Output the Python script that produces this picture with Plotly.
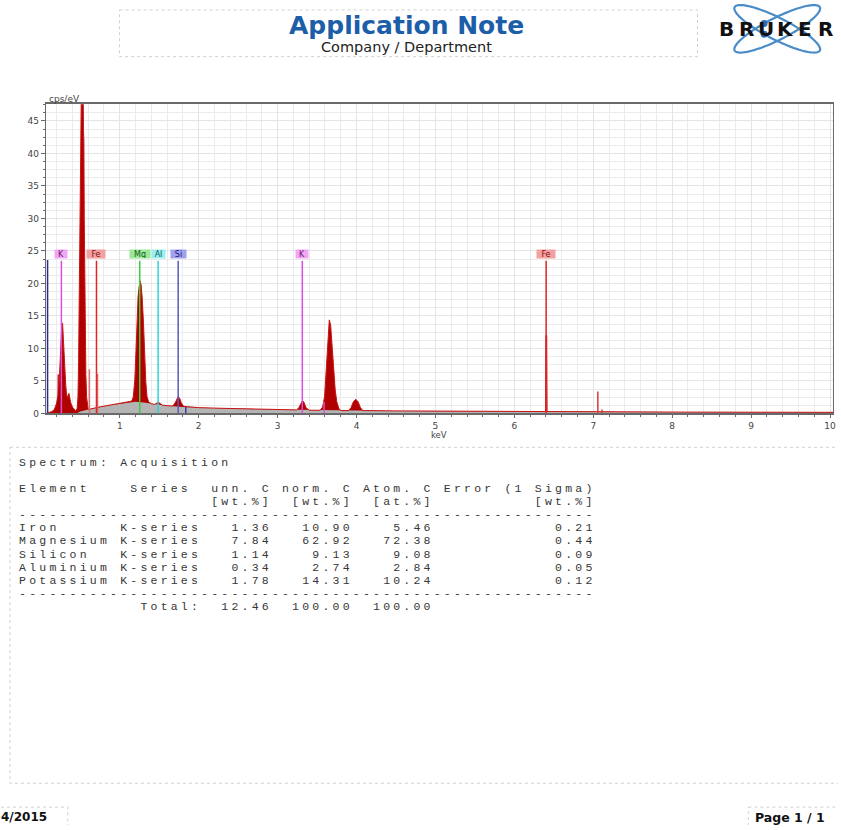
import numpy as np
import plotly.graph_objects as go

PAGE_W, PAGE_H = 841, 830

# ---------------- EDS spectrum: energy [keV] / intensity [cps/eV] ----------------
spec_kev = [0.063, 0.10, 0.14, 0.17, 0.20, 0.215, 0.22, 0.225, 0.235, 0.245, 0.255, 0.265,
            0.275, 0.285, 0.295, 0.305, 0.315, 0.325, 0.335, 0.345, 0.355, 0.365, 0.38,
            0.40, 0.42, 0.44, 0.46, 0.47, 0.478, 0.484, 0.488, 0.495, 0.50, 0.507, 0.513,
            0.525, 0.535, 0.54, 0.545, 0.55, 0.556, 0.562, 0.57, 0.58, 0.59, 0.60, 0.70,
            0.80, 0.90, 1.00, 1.10, 1.15, 1.17, 1.19, 1.205, 1.22, 1.232, 1.245, 1.258,
            1.27, 1.284, 1.30, 1.315, 1.33, 1.345, 1.365, 1.40, 1.44, 1.47, 1.49, 1.51,
            1.54, 1.60, 1.67, 1.70, 1.72, 1.74, 1.76, 1.78, 1.81, 2.00, 2.30, 2.60, 3.00,
            3.24, 3.27, 3.295, 3.315, 3.335, 3.36, 3.40, 3.54, 3.57, 3.595, 3.615, 3.635,
            3.655, 3.672, 3.69, 3.71, 3.73, 3.75, 3.775, 3.80, 3.90, 3.93, 3.96, 3.99,
            4.02, 4.05, 4.08, 4.50, 5.00, 6.00, 6.395, 6.40, 6.41, 6.415, 7.00, 8.00,
            9.00, 10.038]
spec_cps = [0.0, 0.1, 0.3, 0.6, 1.6, 2.8, 6.0, 3.5, 5.5, 9.0, 11.8, 13.4,
            13.9, 11.0, 8.5, 6.2, 4.4, 3.0, 2.4, 2.8, 3.1, 2.5, 1.6,
            1.0, 0.6, 0.4, 0.8, 2.5, 8.0, 16.0, 23.0, 24.0, 30.0, 40.0, 50.0,
            56.0, 52.0, 43.5, 42.0, 30.0, 20.0, 12.0, 6.0, 2.5, 1.0, 0.6, 0.9,
            1.1, 1.3, 1.5, 1.7, 1.9, 2.5, 5.0, 9.5, 15.0, 18.0, 19.5, 20.4,
            19.8, 17.8, 14.0, 9.0, 4.8, 2.6, 1.8, 1.5, 1.4, 1.6, 1.75, 1.55,
            1.3, 1.2, 1.15, 1.6, 2.2, 2.6, 2.3, 1.6, 1.1, 0.9, 0.8, 0.7, 0.6,
            0.55, 0.9, 1.6, 2.0, 1.7, 0.9, 0.5, 0.5, 1.0, 2.6, 6.5, 11.0,
            14.4, 13.6, 10.5, 6.8, 3.6, 1.8, 0.8, 0.45, 0.45, 0.9, 1.8, 2.2,
            1.8, 0.9, 0.45, 0.4, 0.35, 0.3, 0.3, 12.0, 12.0, 0.3, 0.25, 0.22,
            0.2, 0.18]

# fitted continuum (bremsstrahlung background)
bg_kev = [0.45, 0.50, 0.60, 0.70, 0.80, 0.90, 1.00, 1.10, 1.20, 1.30, 1.40, 1.50,
          1.60, 1.80, 2.00, 2.30, 2.60, 3.00, 3.50, 4.00, 4.50, 5.00, 6.00, 7.00,
          8.00, 9.00, 10.038]
bg_cps = [0.0, 0.3, 0.6, 0.9, 1.1, 1.3, 1.5, 1.7, 1.8, 1.7, 1.5, 1.3,
          1.2, 1.0, 0.9, 0.8, 0.7, 0.6, 0.5, 0.45, 0.4, 0.35, 0.3, 0.25,
          0.22, 0.2, 0.18]

# labelled element lines
line_names = ["K", "Fe", "Mg", "Al", "Si", "K", "Fe"]
line_kev = [0.26, 0.705, 1.253, 1.486, 1.740, 3.313, 6.403]
LINE_TOP = 23.5
LABEL_Y = 24.5

# secondary (unlabelled) lines
aux_kev = [0.085, 0.615, 0.718, 1.836, 3.589, 7.058, 7.11]
aux_cps = [23.6, 6.8, 6.1, 1.0, 1.8, 3.4, 0.6]
aux_col = ["#2e2e8a", "#e07070", "#e07070", "#3a3aa8", "#d94fd9", "#d83a3a", "#d83a3a"]

# element colour scheme: line, label background, label text, label width (px)
elem_style = {
    "K":  ("#d94fd9", "#f3a6f3", "#6e1a6e", 12),
    "Fe": ("#e02828", "#f2a0a0", "#861010", 18),
    "Mg": ("#3ccc3c", "#9be89b", "#145a14", 20),
    "Al": ("#2ed3d3", "#9af0f0", "#0b5a5a", 13),
    "Si": ("#5a5ac0", "#a0a0f0", "#1b1b6e", 15),
}

# ---------------- quantification results ----------------
elements = ["Iron", "Magnesium", "Silicon", "Aluminium", "Potassium"]
series = ["K-series", "K-series", "K-series", "K-series", "K-series"]
unn_c = [1.36, 7.84, 1.14, 0.34, 1.78]
norm_c = [10.90, 62.92, 9.13, 2.74, 14.31]
atom_c = [5.46, 72.38, 9.08, 2.84, 10.24]
sigma = [0.21, 0.44, 0.09, 0.05, 0.12]
totals = [12.46, 100.00, 100.00]

# ---------------- page geometry (pixels) ----------------
PLOT_L, PLOT_R, PLOT_T, PLOT_B = 46, 836, 105, 416
X_RANGE = [0.063, 10.038]
Y_RANGE = [0, 47.55]

TAB_X0, TAB_CW = 17.5, 10.15          # table text origin and character pitch
TAB_Y0, TAB_PITCH = 466, 13.15        # first table line and line pitch
FONT_UI = "DejaVu Sans"
FONT_MONO = "Liberation Mono"

fig = go.Figure()

# spectrum (filled), background continuum, and spectrum outline
fig.add_trace(go.Scatter(x=spec_kev, y=spec_cps, mode="lines", fill="tozeroy",
                         fillcolor="#b00000", line=dict(color="#b00000", width=0),
                         hoverinfo="skip", showlegend=False))
fig.add_trace(go.Scatter(x=bg_kev, y=bg_cps, mode="lines", fill="tozeroy",
                         fillcolor="#b4b4b4", line=dict(color="#b4b4b4", width=0),
                         hoverinfo="skip", showlegend=False))
fig.add_trace(go.Scatter(x=spec_kev, y=spec_cps, mode="lines",
                         line=dict(color="#c81414", width=1),
                         hoverinfo="skip", showlegend=False))

shapes = []
annotations = []

# secondary lines
for e, h, c in zip(aux_kev, aux_cps, aux_col):
    shapes.append(dict(type="line", xref="x", yref="y", x0=e, x1=e, y0=0, y1=h,
                       line=dict(color=c, width=1.5)))

# labelled element lines
for name, e in zip(line_names, line_kev):
    lc, bc, tc, w = elem_style[name]
    shapes.append(dict(type="line", xref="x", yref="y", x0=e, x1=e, y0=0, y1=LINE_TOP,
                       line=dict(color=lc, width=1.5)))
    annotations.append(dict(xref="x", yref="y", x=e, y=LABEL_Y, text=name,
                            showarrow=False, bgcolor=bc, width=w, height=8,
                            borderpad=0, font=dict(family=FONT_UI, size=8, color=tc)))

# axis captions
annotations.append(dict(xref="x2", yref="y2", x=48, y=100, text="cps/eV", showarrow=False,
                        xanchor="left", borderpad=0,
                        font=dict(family=FONT_UI, size=9, color="#444")))
annotations.append(dict(xref="x2", yref="y2", x=441, y=437.5, text="keV", showarrow=False,
                        borderpad=0, font=dict(family=FONT_UI, size=8.5, color="#444")))

# ---------------- header ----------------
dotted = dict(color="#cfcfcf", width=1, dash="dot")
shapes.append(dict(type="rect", xref="x2", yref="y2", x0=120, x1=700, y0=10, y1=57,
                   line=dotted, layer="below"))
annotations.append(dict(xref="x2", yref="y2", x=408, y=25.5, text="<b>Application Note</b>",
                        showarrow=False, borderpad=0,
                        font=dict(family=FONT_UI, size=25, color="#1d5ea8")))
annotations.append(dict(xref="x2", yref="y2", x=408, y=47.5, text="Company / Department",
                        showarrow=False, borderpad=0,
                        font=dict(family=FONT_UI, size=14.5, color="#222")))

# logo: two crossing orbits with electrons, and lettering
cx, cy, a, b = 780, 29, 48, 11
t = np.linspace(0, 2 * np.pi, 90)
orbit_pts = []
for ang in (np.deg2rad(27), np.deg2rad(-27)):
    ox = cx + a * np.cos(t) * np.cos(ang) - b * np.sin(t) * np.sin(ang)
    oy = cy + a * np.cos(t) * np.sin(ang) + b * np.sin(t) * np.cos(ang)
    orbit_pts.append((ox, oy))
    path = "M " + " L ".join(f"{x:.2f},{y:.2f}" for x, y in zip(ox, oy)) + " Z"
    shapes.append(dict(type="path", xref="x2", yref="y2", path=path,
                       line=dict(color="#4a8cc8", width=2.2)))
for (ox, oy), (tx, ty) in zip(orbit_pts, [(759, 49), (758, 11)]):
    k = int(np.argmin((ox - tx) ** 2 + (oy - ty) ** 2))
    shapes.append(dict(type="circle", xref="x2", yref="y2", x0=ox[k] - 3.5, x1=ox[k] + 3.5,
                       y0=oy[k] - 3.5, y1=oy[k] + 3.5, fillcolor="#2b6db5",
                       line=dict(width=0)))
for i, ch in enumerate("BRUKER"):
    annotations.append(dict(xref="x2", yref="y2", x=729.5 + i * 19.7, y=29, text=f"<b>{ch}</b>",
                            showarrow=False, borderpad=0,
                            font=dict(family=FONT_UI, size=20, color="#111")))

# ---------------- results table ----------------
shapes.append(dict(type="rect", xref="x2", yref="y2", x0=10, x1=860, y0=450, y1=788,
                   line=dotted, layer="below"))

table_lines = ["Spectrum: Acquisition",
               "",
               "Element    Series  unn. C norm. C Atom. C Error (1 Sigma)",
               " " * 19 + "[wt.%]  [wt.%]  [at.%]" + " " * 10 + "[wt.%]",
               "-" * 57]
for el, se, u, n, at, s in zip(elements, series, unn_c, norm_c, atom_c, sigma):
    table_lines.append(f"{el:<10}{se:<8}{u:>7.2f}{n:>8.2f}{at:>8.2f}{s:>16.2f}")
table_lines.append("-" * 57)
table_lines.append(" " * 12 + "Total:" + f"{totals[0]:>7.2f}{totals[1]:>8.2f}{totals[2]:>8.2f}")

cx_list, cy_list, ch_list = [], [], []
for row, txt in enumerate(table_lines):
    for col, ch in enumerate(txt):
        if ch != " ":
            cx_list.append(TAB_X0 + (col + 0.5) * TAB_CW)
            cy_list.append(TAB_Y0 + row * TAB_PITCH)
            ch_list.append(ch)
fig.add_trace(go.Scatter(x=cx_list, y=cy_list, text=ch_list, mode="text",
                         textposition="middle center",
                         textfont=dict(family=FONT_MONO, size=11.5, color="#363636"),
                         xaxis="x2", yaxis="y2", hoverinfo="skip", showlegend=False))

# ---------------- footer ----------------
shapes.append(dict(type="rect", xref="x2", yref="y2", x0=-5, x1=68, y0=812, y1=834,
                   line=dotted, layer="below"))
shapes.append(dict(type="rect", xref="x2", yref="y2", x0=751, x1=850, y0=812, y1=834,
                   line=dotted, layer="below"))
annotations.append(dict(xref="x2", yref="y2", x=0, y=822, text="<b>4/2015</b>", xanchor="left",
                        showarrow=False, borderpad=0,
                        font=dict(family=FONT_UI, size=12, color="#111")))
annotations.append(dict(xref="x2", yref="y2", x=829, y=822, text="<b>Page 1 / 1</b>",
                        xanchor="right", showarrow=False, borderpad=0,
                        font=dict(family=FONT_UI, size=12.5, color="#111")))

axis_col = "#6a6a6a"
fig.update_layout(
    width=PAGE_W, height=PAGE_H,
    margin=dict(l=0, r=0, t=0, b=0),
    paper_bgcolor="white", plot_bgcolor="rgba(0,0,0,0)",
    showlegend=False,
    shapes=shapes, annotations=annotations,
    xaxis=dict(domain=[PLOT_L / PAGE_W, PLOT_R / PAGE_W], range=X_RANGE, anchor="y",
               tick0=0, dtick=1, ticks="outside", ticklen=3, tickcolor=axis_col,
               showgrid=True, gridcolor="#e4e4e4", gridwidth=1, zeroline=False,
               showline=True, linecolor=axis_col, linewidth=1.5, mirror=True,
               tickfont=dict(family=FONT_UI, size=9, color="#444"),
               minor=dict(dtick=0.2, tick0=0, showgrid=True, gridcolor="#ebebeb",
                          ticks="outside", ticklen=2, tickcolor=axis_col)),
    yaxis=dict(domain=[1 - PLOT_B / PAGE_H, 1 - PLOT_T / PAGE_H], range=Y_RANGE, anchor="x",
               tick0=0, dtick=5, ticks="outside", ticklen=4, tickcolor=axis_col,
               showgrid=True, gridcolor="#e4e4e4", gridwidth=1, zeroline=False,
               showline=True, linecolor=axis_col, linewidth=1, mirror=True,
               tickfont=dict(family=FONT_UI, size=9, color="#444"),
               minor=dict(dtick=1.25, tick0=0, showgrid=True, gridcolor="#ebebeb",
                          ticks="outside", ticklen=2, tickcolor=axis_col)),
    xaxis2=dict(domain=[0, 1], range=[0, PAGE_W], anchor="y2", visible=False, fixedrange=True),
    yaxis2=dict(domain=[0, 1], range=[PAGE_H, 0], anchor="x2", visible=False, fixedrange=True),
)

fig.write_html("out.html")
